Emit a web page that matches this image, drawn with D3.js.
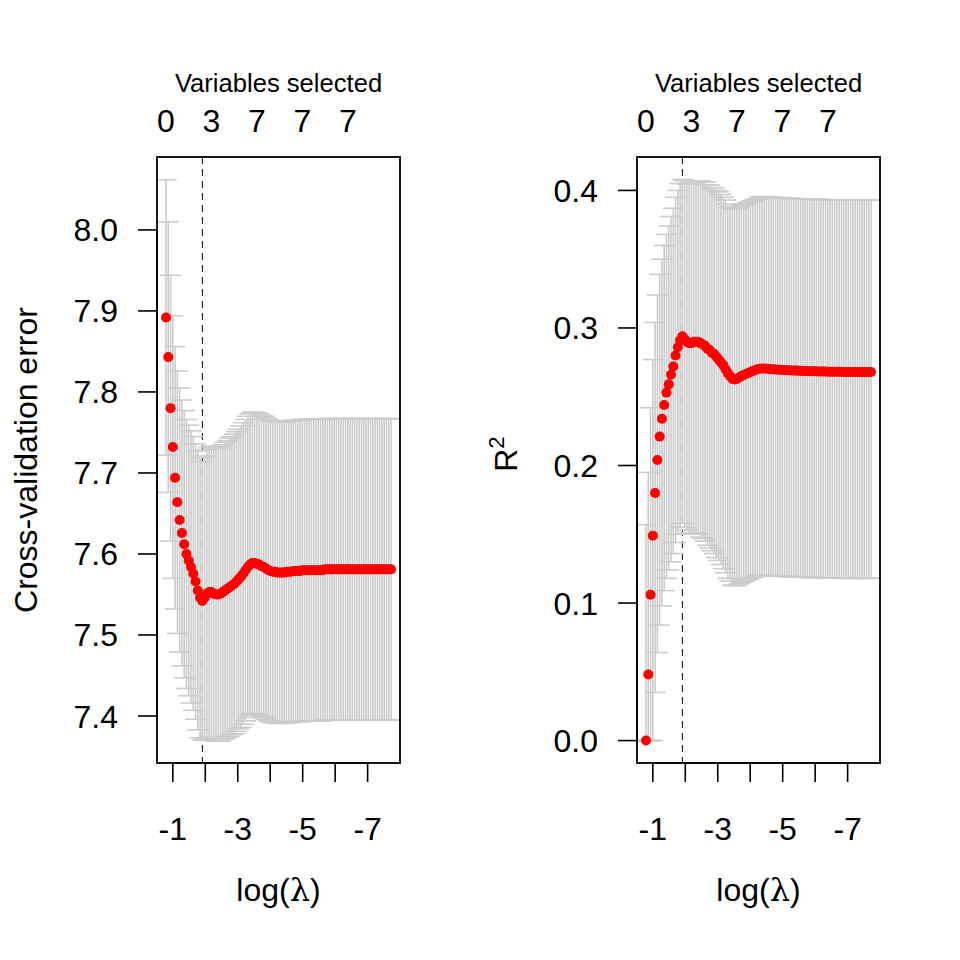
<!DOCTYPE html>
<html><head><meta charset="utf-8">
<script src="https://cdn.jsdelivr.net/npm/d3@7"></script>
<style>
body{margin:0;background:#fff}
svg{display:block}
text{font-family:"Liberation Sans",Arial,Helvetica,sans-serif;fill:#000}
</style>
</head><body>
<svg id="c" width="960" height="960"></svg>
<script>
// ---- data ----
const logLambda = [
-0.79,-0.86,-0.93,-1.00,-1.07,-1.14,-1.21,-1.28,-1.35,-1.42,
-1.49,-1.56,-1.63,-1.70,-1.77,-1.84,-1.91,-1.98,-2.05,-2.12,
-2.19,-2.26,-2.33,-2.40,-2.47,-2.54,-2.61,-2.68,-2.75,-2.82,
-2.89,-2.96,-3.03,-3.10,-3.17,-3.24,-3.31,-3.38,-3.45,-3.52,
-3.59,-3.66,-3.73,-3.80,-3.87,-3.94,-4.01,-4.08,-4.15,-4.22,
-4.29,-4.36,-4.43,-4.50,-4.57,-4.64,-4.71,-4.78,-4.85,-4.92,
-4.99,-5.06,-5.13,-5.20,-5.27,-5.34,-5.41,-5.48,-5.55,-5.62,
-5.69,-5.76,-5.83,-5.90,-5.97,-6.04,-6.11,-6.18,-6.25,-6.32,
-6.39,-6.46,-6.53,-6.60,-6.67,-6.74,-6.81,-6.88,-6.95,-7.02,
-7.09,-7.16,-7.23,-7.30,-7.37,-7.44,-7.51,-7.58,-7.65,-7.72];

const cve = [
7.892,7.843,7.780,7.732,7.694,7.664,7.642,7.626,7.612,7.600,
7.592,7.584,7.576,7.566,7.555,7.546,7.542,7.546,7.551,7.553,
7.553,7.551,7.550,7.550,7.551,7.553,7.555,7.557,7.559,7.561,
7.563,7.566,7.569,7.572,7.576,7.580,7.584,7.587,7.589,7.589,
7.588,7.587,7.585,7.584,7.582,7.580,7.579,7.578,7.578,7.577,
7.577,7.577,7.577,7.578,7.578,7.578,7.579,7.579,7.579,7.579,
7.580,7.580,7.580,7.580,7.580,7.580,7.580,7.580,7.580,7.580,
7.581,7.581,7.581,7.581,7.581,7.581,7.581,7.581,7.581,7.581,
7.581,7.581,7.581,7.581,7.581,7.581,7.581,7.581,7.581,7.581,
7.581,7.581,7.581,7.581,7.581,7.581,7.581,7.581,7.581,7.581];

const cveSE = [
0.170,0.167,0.164,0.162,0.162,0.162,0.163,0.164,0.165,0.166,
0.167,0.168,0.169,0.170,0.172,0.173,0.172,0.175,0.178,0.179,
0.180,0.180,0.181,0.181,0.182,0.182,0.183,0.183,0.184,0.184,
0.185,0.185,0.185,0.186,0.186,0.186,0.186,0.186,0.186,0.186,
0.186,0.186,0.186,0.186,0.186,0.186,0.186,0.186,0.186,0.186,
0.186,0.186,0.186,0.186,0.186,0.186,0.186,0.186,0.186,0.186,
0.186,0.186,0.186,0.186,0.186,0.186,0.186,0.186,0.186,0.186,
0.186,0.186,0.186,0.186,0.186,0.186,0.186,0.186,0.186,0.186,
0.186,0.186,0.186,0.186,0.186,0.186,0.186,0.186,0.186,0.186,
0.186,0.186,0.186,0.186,0.186,0.186,0.186,0.186,0.186,0.186];

const rsq = [
0.000,0.048,0.106,0.149,0.180,0.204,0.221,0.234,0.244,0.253,
0.259,0.266,0.272,0.280,0.286,0.291,0.294,0.292,0.290,0.289,
0.289,0.290,0.290,0.290,0.289,0.288,0.287,0.285,0.284,0.282,
0.281,0.279,0.277,0.275,0.273,0.270,0.267,0.265,0.263,0.2625,
0.263,0.264,0.265,0.2658,0.2665,0.2673,0.268,0.2687,0.2693,0.270,
0.2703,0.2705,0.2705,0.2703,0.2701,0.2700,0.2699,0.2698,0.2697,0.2696,
0.2695,0.2694,0.2693,0.2692,0.2691,0.2690,0.2690,0.2689,0.2688,0.2688,
0.2687,0.2687,0.2686,0.2686,0.2685,0.2685,0.2684,0.2684,0.2683,0.2683,
0.2682,0.2682,0.2682,0.2681,0.2681,0.2681,0.2681,0.2680,0.2680,0.2680,
0.2680,0.2680,0.2680,0.2680,0.2680,0.2680,0.2680,0.2680,0.2680,0.2680];

const rsqSEup = [
0.157,0.147,0.136,0.128,0.124,0.120,0.118,0.116,0.116,0.115,
0.115,0.115,0.115,0.115,0.114,0.114,0.114,0.115,0.115,0.116,
0.116,0.116,0.117,0.117,0.118,0.118,0.119,0.119,0.120,0.120,
0.121,0.121,0.122,0.122,0.122,0.123,0.123,0.123,0.124,0.124,
0.124,0.124,0.124,0.124,0.124,0.124,0.124,0.124,0.124,0.124,
0.125,0.125,0.125,0.125,0.125,0.125,0.125,0.125,0.125,0.125,
0.125,0.125,0.125,0.125,0.125,0.125,0.125,0.125,0.125,0.125,
0.125,0.125,0.125,0.125,0.125,0.125,0.125,0.125,0.125,0.125,
0.125,0.125,0.125,0.125,0.125,0.125,0.125,0.125,0.125,0.125,
0.125,0.125,0.125,0.125,0.125,0.125,0.125,0.125,0.125,0.125];

const rsqSElow = [
0.160,0.155,0.150,0.150,0.145,0.140,0.137,0.136,0.135,0.135,
0.135,0.136,0.136,0.136,0.136,0.136,0.136,0.137,0.137,0.138,
0.138,0.139,0.139,0.140,0.141,0.141,0.142,0.143,0.144,0.144,
0.145,0.146,0.146,0.147,0.148,0.148,0.149,0.149,0.150,0.150,
0.150,0.150,0.150,0.150,0.150,0.150,0.150,0.150,0.150,0.150,
0.150,0.150,0.150,0.150,0.150,0.150,0.150,0.150,0.150,0.150,
0.150,0.150,0.150,0.150,0.150,0.150,0.150,0.150,0.150,0.150,
0.150,0.150,0.150,0.150,0.150,0.150,0.150,0.150,0.150,0.150,
0.150,0.150,0.150,0.150,0.150,0.150,0.150,0.150,0.150,0.150,
0.150,0.150,0.150,0.150,0.150,0.150,0.150,0.150,0.150,0.150];

const minIndex = 16;
const selIndex = [0,20,40,60,80];
const selLabels = ["0","3","7","7","7"];
const xTicks = [-1,-2,-3,-4,-5,-6,-7];
const xTickLabels = ["-1","","-3","","-5","","-7"];
const cveTicks = [7.4,7.5,7.6,7.7,7.8,7.9,8.0];
const cveTickLabels = ["7.4","7.5","7.6","7.7","7.8","7.9","8.0"];
const rsqTicks = [0.0,0.1,0.2,0.3,0.4];
const rsqTickLabels = ["0.0","0.1","0.2","0.3","0.4"];

// ---- layout ----
const svg = d3.select("#c");
const box = {left:157, right:400, top:157, bottom:763};
const FS = 32;

function panel(ox, id, mean, lower, upper, yDomain, yTicks, yLabels, ylabY, ylabFn) {
  const g = svg.append("g").attr("transform", `translate(${ox},0)`);
  const ext = d3.extent(logLambda);
  const pad = (ext[1]-ext[0])*0.04;
  const x = d3.scaleLinear().domain([ext[1]+pad, ext[0]-pad]).range([box.left, box.right]);
  const y = d3.scaleLinear().domain(yDomain).range([box.bottom, box.top]);

  g.append("clipPath").attr("id","clip"+id).append("rect")
    .attr("x",box.left).attr("y",box.top)
    .attr("width",box.right-box.left).attr("height",box.bottom-box.top);
  const pg = g.append("g").attr("clip-path",`url(#clip${id})`);

  // dashed vertical line at minimum
  pg.append("line")
    .attr("x1",x(logLambda[minIndex])).attr("x2",x(logLambda[minIndex]))
    .attr("y1",box.top).attr("y2",box.bottom)
    .attr("stroke","#000").attr("stroke-width",1).attr("stroke-dasharray","7,5");

  // error bars
  const idx = d3.range(logLambda.length);
  const capW = 10.5;
  const eb = pg.append("g").attr("stroke","#CCCCCC").attr("stroke-width",1.6).attr("fill","none");
  eb.selectAll("line.v").data(idx).join("line").attr("class","v")
    .attr("x1",i=>x(logLambda[i])).attr("x2",i=>x(logLambda[i]))
    .attr("y1",i=>y(lower[i])).attr("y2",i=>y(upper[i]));
  eb.selectAll("line.lo").data(idx).join("line").attr("class","lo")
    .attr("x1",i=>x(logLambda[i])-capW).attr("x2",i=>x(logLambda[i])+capW)
    .attr("y1",i=>y(lower[i])).attr("y2",i=>y(lower[i]));
  eb.selectAll("line.up").data(idx).join("line").attr("class","up")
    .attr("x1",i=>x(logLambda[i])-capW).attr("x2",i=>x(logLambda[i])+capW)
    .attr("y1",i=>y(upper[i])).attr("y2",i=>y(upper[i]));

  // points
  pg.selectAll("circle").data(idx).join("circle")
    .attr("cx",i=>x(logLambda[i])).attr("cy",i=>y(mean[i]))
    .attr("r",5).attr("fill","#FF0000");

  // box
  g.append("rect").attr("x",box.left).attr("y",box.top)
    .attr("width",box.right-box.left).attr("height",box.bottom-box.top)
    .attr("fill","none").attr("stroke","#000").attr("stroke-width",1.8);

  // bottom axis
  const tl = 19;
  const ax = g.append("g").attr("stroke","#000").attr("stroke-width",1.6);
  ax.append("line").attr("x1",x(xTicks[0])).attr("x2",x(xTicks[xTicks.length-1]))
    .attr("y1",box.bottom).attr("y2",box.bottom);
  ax.selectAll("line.xt").data(xTicks).join("line").attr("class","xt")
    .attr("x1",d=>x(d)).attr("x2",d=>x(d)).attr("y1",box.bottom).attr("y2",box.bottom+tl);
  g.selectAll("text.xl").data(xTicks).join("text").attr("class","xl")
    .attr("x",d=>x(d)).attr("y",840).attr("text-anchor","middle")
    .attr("font-size",FS).text((d,i)=>xTickLabels[i]);

  // left axis
  ax.append("line").attr("x1",box.left).attr("x2",box.left)
    .attr("y1",y(yTicks[0])).attr("y2",y(yTicks[yTicks.length-1]));
  ax.selectAll("line.yt").data(yTicks).join("line").attr("class","yt")
    .attr("x1",box.left-tl).attr("x2",box.left).attr("y1",d=>y(d)).attr("y2",d=>y(d));
  g.selectAll("text.yl").data(yTicks).join("text").attr("class","yl")
    .attr("x",box.left-39).attr("y",d=>y(d)+11.5).attr("text-anchor","end")
    .attr("font-size",FS).text((d,i)=>yLabels[i]);

  // top: variables selected
  g.selectAll("text.sel").data(selIndex).join("text").attr("class","sel")
    .attr("x",i=>x(logLambda[i])).attr("y",131.5).attr("text-anchor","middle")
    .attr("font-size",FS).text((d,k)=>selLabels[k]);
  g.append("text").attr("x",(box.left+box.right)/2).attr("y",92)
    .attr("text-anchor","middle").attr("font-size",FS*0.8).text("Variables selected");

  // x label
  const xl = g.append("text").attr("x",(box.left+box.right)/2).attr("y",901)
    .attr("text-anchor","middle").attr("font-size",FS);
  xl.append("tspan").text("log(");
  xl.append("tspan").attr("font-family","'DejaVu Serif','Liberation Serif',serif").text("λ");
  xl.append("tspan").text(")");

  // y label
  const yl = g.append("text").attr("transform",`translate(${box.left-120},${ylabY}) rotate(-90)`)
    .attr("text-anchor","middle").attr("font-size",FS);
  ylabFn(yl);
}

panel(0, "a", cve,
  cve.map((v,i)=>v-cveSE[i]), cve.map((v,i)=>v+cveSE[i]),
  [7.342, 8.090], cveTicks, cveTickLabels, 460,
  t=>t.text("Cross-validation error"));

panel(480, "b", rsq,
  rsq.map((v,i)=>Math.max(0, v-rsqSElow[i])), rsq.map((v,i)=>Math.min(1, v+rsqSEup[i])),
  [-0.0163, 0.4243], rsqTicks, rsqTickLabels, 454,
  t=>{ t.append("tspan").text("R");
       t.append("tspan").attr("font-size",FS*0.7).attr("dy",-13).text("2"); });
</script>
</body></html>
